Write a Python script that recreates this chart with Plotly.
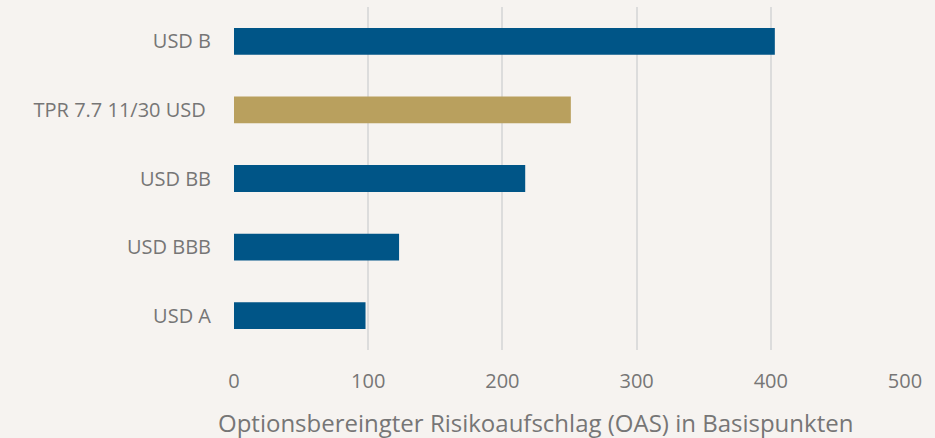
import plotly.graph_objects as go

categories = ["USD A", "USD BBB", "USD BB", "TPR 7.7 11/30 USD ", "USD B"]
values = [98, 123, 217, 251, 403]
colors = ["#005587", "#005587", "#005587", "#b9a05e", "#005587"]
x_ticks = [0, 100, 200, 300, 400, 500]
x_title = "Optionsbereingter Risikoaufschlag (OAS) in Basispunkten"

font = dict(family="Open Sans", size=20, color="#767676")
title_font = dict(family="Open Sans", size=24, color="#767676")

fig = go.Figure(go.Bar(
    y=categories, x=values, orientation="h",
    marker=dict(color=colors, line=dict(width=0)),
    width=0.39,
))

fig.update_layout(
    width=935, height=438,
    margin=dict(l=234, r=30, t=7, b=88),
    paper_bgcolor="#f6f3f0", plot_bgcolor="#f6f3f0",
    font=font,
    showlegend=False,
    xaxis=dict(range=[0, 500], tickvals=x_ticks, showgrid=True,
               gridcolor="#dcdcdc", gridwidth=2, zeroline=False,
               showline=False, ticklabelstandoff=17, tickfont=font),
    yaxis=dict(showgrid=False, zeroline=False, showline=False,
               ticklabelstandoff=22, tickfont=font),
    annotations=[dict(text=x_title, xref="paper", yref="paper",
                      x=0.45, y=-0.21, yanchor="middle", xanchor="center",
                      showarrow=False, font=title_font)],
)

fig.write_html(
    "out.html",
    config={"displayModeBar": False},
    post_script="document.body.style.margin='0';document.body.style.overflow='hidden';",
)
